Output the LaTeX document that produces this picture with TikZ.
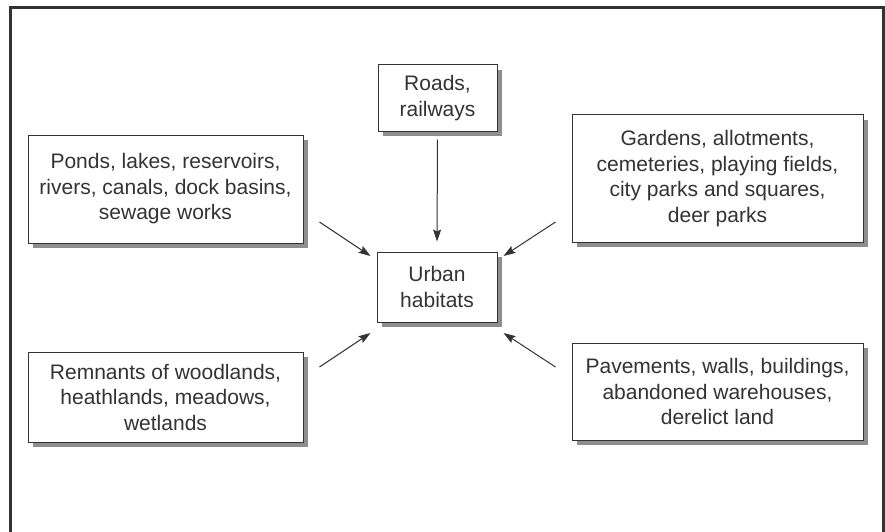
\documentclass[tikz,border=0pt]{standalone}
\usepackage{fontspec}
\setmainfont{Liberation Sans}
\usetikzlibrary{arrows.meta,shadows}
\definecolor{encre}{HTML}{333333}
\definecolor{ombre}{HTML}{8E8E8E}
\tikzset{
  boite/.style={draw=encre,line width=1pt,fill=white,text=encre,align=center,inner sep=0pt,
    drop shadow={shadow xshift=5pt,shadow yshift=-5pt,fill=ombre,opacity=1},
    font=\fontsize{21}{25.5}\selectfont},
  fleche/.style={encre,line width=1pt,-{Stealth[length=12pt,width=8pt,inset=2pt]}}
}
\begin{document}
\begin{tikzpicture}[x=1pt,y=-1pt]
  \useasboundingbox (0,0) rectangle (885,532);
  % Cadre
  \draw [encre,line width=3pt] (10.5,532) -- (10.5,7.5) -- (883.5,7.5) -- (883.5,532);
  % Boites
  \node [boite,minimum width=119pt,minimum height=66pt] (roads) at (437.5,98) {Roads,\\railways};
  \node [boite,minimum width=120pt,minimum height=70pt] (urban) at (437,287) {Urban\\habitats};
  \node [boite,minimum width=275pt,minimum height=108pt] (ponds) at (165.5,189) {Ponds, lakes, reservoirs,\\rivers, canals, dock basins,\\sewage works};
  \node [boite,minimum width=291pt,minimum height=127pt] (gardens) at (717.5,178.5) {Gardens, allotments,\\cemeteries, playing fields,\\city parks and squares,\\deer parks};
  \node [boite,minimum width=275pt,minimum height=90pt] (remnants) at (165.5,397) {Remnants of woodlands,\\heathlands, meadows,\\wetlands};
  \node [boite,minimum width=291pt,minimum height=97pt] (pavements) at (717.5,391.5) {Pavements, walls, buildings,\\abandoned warehouses,\\derelict land};
  % Flèches
  \draw [fleche,shorten <=8pt,shorten >=10pt] (roads.south) -- (urban.north);
  \draw [fleche] ([xshift=16pt,yshift=-33pt]ponds.east) -- ([xshift=-6pt,yshift=31pt]urban.west);
  \draw [fleche] ([xshift=-16pt,yshift=-43.5pt]gardens.west) -- ([xshift=6pt,yshift=31pt]urban.east);
  \draw [fleche] ([xshift=16pt,yshift=30pt]remnants.east) -- ([xshift=-6pt,yshift=-46pt]urban.west);
  \draw [fleche] ([xshift=-16pt,yshift=24.5pt]pavements.west) -- ([xshift=6pt,yshift=-46pt]urban.east);
\end{tikzpicture}
\end{document}
